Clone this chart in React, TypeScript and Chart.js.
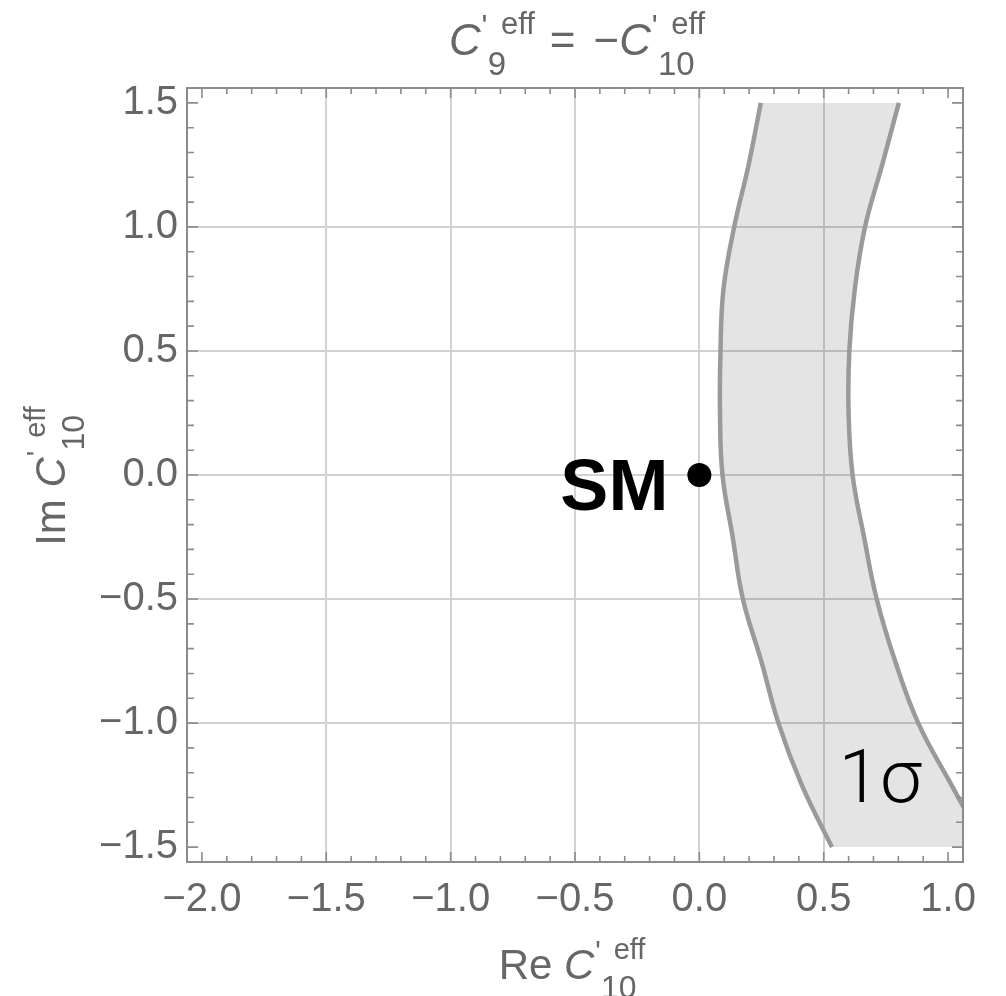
import React, { useEffect, useRef } from 'react';
import { Chart, registerables } from 'chart.js';

Chart.register(...registerables);

// Im C'10 sample points along the 1σ band
const IM_VALUES = [-1.5, -1.25, -1.0, -0.75, -0.5, -0.25, 0, 0.25, 0.5, 0.75, 1.0, 1.25, 1.5];
// Re C'10 of the inner (left) band edge at each Im value
const RE_INNER = [0.533, 0.412, 0.318, 0.249, 0.175, 0.134, 0.093, 0.083, 0.085, 0.097, 0.14, 0.198, 0.247];
// Re C'10 of the outer (right) band edge at each Im value
const RE_OUTER = [1.15, 1.014, 0.88, 0.787, 0.713, 0.662, 0.616, 0.6, 0.603, 0.625, 0.666, 0.735, 0.802];

// Standard Model point
const SM_RE = [0];
const SM_IM = [0];

const X_TICKS = [-2, -1.5, -1, -0.5, 0, 0.5, 1];
const X_TICK_LABELS = ['−2.0', '−1.5', '−1.0', '−0.5', '0.0', '0.5', '1.0'];
const Y_TICKS = [-1.5, -1, -0.5, 0, 0.5, 1, 1.5];
const Y_TICK_LABELS = ['−1.5', '−1.0', '−0.5', '0.0', '0.5', '1.0', '1.5'];
const X_GRID = [-1.5, -1, -0.5, 0, 0.5];
const Y_GRID = [-1, -0.5, 0, 0.5, 1];

const X_MIN = -2.06;
const X_MAX = 1.06;
const Y_MIN = -1.56;
const Y_MAX = 1.56;

const FONT = '"Liberation Sans", Arial, Helvetica, sans-serif';
const TEXT_GRAY = '#666666';
const FRAME_GRAY = '#8c8c8c';
const GRID_GRAY = '#d2d2d2';
const BAND_FILL = 'rgba(0,0,0,0.105)';
const BAND_EDGE = '#9a9a9a';

const SUP = 0.7;
const SUB = 0.75;

const near = (a: number, b: number) => Math.abs(a - b) < 1e-6;
const inList = (v: number, list: number[]) => list.some((g) => near(v, g));

// Width of C'^eff_sub at the given size
function symbolWidth(ctx: CanvasRenderingContext2D, size: number, sub: string) {
  ctx.font = `italic ${size}px ${FONT}`;
  const wc = ctx.measureText('C').width;
  ctx.font = `${Math.round(size * SUP)}px ${FONT}`;
  const we = ctx.measureText('eff').width;
  ctx.font = `${Math.round(size * SUB)}px ${FONT}`;
  const ws = ctx.measureText(sub).width;
  return wc + Math.max(size * 0.46 + we, size * 0.16 + ws);
}

// Draws C'^eff_sub with its left edge at x
function drawSymbol(ctx: CanvasRenderingContext2D, x: number, base: number, size: number, sub: string) {
  ctx.textAlign = 'left';
  ctx.textBaseline = 'alphabetic';
  ctx.font = `italic ${size}px ${FONT}`;
  ctx.fillText('C', x, base);
  const xs = x + ctx.measureText('C').width;
  ctx.font = `${Math.round(size * SUP)}px ${FONT}`;
  ctx.fillText("'", xs + size * 0.02, base - size * 0.42);
  ctx.fillText('eff', xs + size * 0.46, base - size * 0.48);
  ctx.font = `${Math.round(size * SUB)}px ${FONT}`;
  ctx.fillText(sub, xs + size * 0.16, base + size * 0.45);
}

// "Re C'^eff_10" / "Im C'^eff_10" centred at cx
function drawAxisLabel(ctx: CanvasRenderingContext2D, prefix: string, cx: number, base: number, size: number) {
  ctx.font = `${size}px ${FONT}`;
  const wp = ctx.measureText(prefix).width;
  const total = wp + symbolWidth(ctx, size, '10');
  const x0 = cx - total / 2;
  ctx.font = `${size}px ${FONT}`;
  ctx.textAlign = 'left';
  ctx.textBaseline = 'alphabetic';
  ctx.fillText(prefix, x0, base);
  drawSymbol(ctx, x0 + wp, base, size, '10');
}

const decorations = {
  id: 'decorations',
  afterDraw(chart: any) {
    const { ctx, chartArea: a } = chart;
    const xs = chart.scales.x;
    const ys = chart.scales.y;
    ctx.save();

    // frame
    ctx.strokeStyle = FRAME_GRAY;
    ctx.lineWidth = 2;
    ctx.strokeRect(a.left, a.top, a.right - a.left, a.bottom - a.top);

    // inward frame ticks on all four sides
    ctx.lineWidth = 1.6;
    ctx.beginPath();
    for (const t of xs.ticks) {
      const px = xs.getPixelForValue(t.value);
      const len = inList(t.value, X_TICKS) ? 10 : 6;
      ctx.moveTo(px, a.bottom);
      ctx.lineTo(px, a.bottom - len);
      ctx.moveTo(px, a.top);
      ctx.lineTo(px, a.top + len);
    }
    for (const t of ys.ticks) {
      const py = ys.getPixelForValue(t.value);
      const len = inList(t.value, Y_TICKS) ? 11 : 7;
      ctx.moveTo(a.left, py);
      ctx.lineTo(a.left + len, py);
      ctx.moveTo(a.right, py);
      ctx.lineTo(a.right - len, py);
    }
    ctx.stroke();

    // title
    ctx.fillStyle = TEXT_GRAY;
    const ts = 44;
    const w1 = symbolWidth(ctx, ts, '9');
    const w2 = symbolWidth(ctx, ts, '10');
    ctx.font = `${ts}px ${FONT}`;
    const weq = ctx.measureText('=').width;
    const wmin = ctx.measureText('−').width;
    const gap1 = 15;
    const gap2 = 18;
    const total = w1 + gap1 + weq + gap2 + wmin + w2;
    let x = (a.left + a.right) / 2 + 2 - total / 2;
    const tb = 55;
    drawSymbol(ctx, x, tb, ts, '9');
    x += w1 + gap1;
    ctx.font = `${ts}px ${FONT}`;
    ctx.fillText('=', x, tb);
    x += weq + gap2;
    ctx.fillText('−', x, tb);
    x += wmin;
    drawSymbol(ctx, x, tb, ts, '10');

    // axis titles
    drawAxisLabel(ctx, 'Re ', (a.left + a.right) / 2 - 3, 979, 42);
    ctx.save();
    ctx.translate(65, (a.top + a.bottom) / 2 + 1);
    ctx.rotate(-Math.PI / 2);
    drawAxisLabel(ctx, 'Im ', 0, 0, 42);
    ctx.restore();

    // SM label beside its point
    const smx = xs.getPixelForValue(SM_RE[0]);
    const smy = ys.getPixelForValue(SM_IM[0]);
    ctx.fillStyle = '#000';
    ctx.font = `bold 72px ${FONT}`;
    ctx.textAlign = 'right';
    ctx.textBaseline = 'alphabetic';
    ctx.fillText('SM', smx - 31, smy + 35);

    // band label
    ctx.font = '300 75px Roboto, "Liberation Sans", sans-serif';
    ctx.textAlign = 'center';
    ctx.fillText('1σ', xs.getPixelForValue(0.727), ys.getPixelForValue(-1.32));

    ctx.restore();
  },
};

export default function App() {
  const ref = useRef<HTMLCanvasElement | null>(null);

  useEffect(() => {
    if (!ref.current) return;
    const inner = IM_VALUES.map((im, i) => ({ x: RE_INNER[i], y: im }));
    const outer = IM_VALUES.map((im, i) => ({ x: RE_OUTER[i], y: im }));
    const sm = SM_RE.map((re, i) => ({ x: re, y: SM_IM[i] }));

    const tickLabel = (values: number[], labels: string[]) => (v: number) => {
      const i = values.findIndex((t) => near(t, v));
      return i >= 0 ? labels[i] : '';
    };

    const chart = new Chart(ref.current, {
      type: 'line',
      data: {
        datasets: [
          {
            data: inner,
            borderColor: BAND_EDGE,
            borderWidth: 4.5,
            backgroundColor: BAND_FILL,
            fill: '+1',
            pointRadius: 0,
            tension: 0.4,
            clip: 0,
          },
          {
            data: outer,
            borderColor: BAND_EDGE,
            borderWidth: 4.5,
            fill: false,
            pointRadius: 0,
            tension: 0.4,
            clip: 0,
          },
          {
            data: sm,
            showLine: false,
            fill: false,
            pointRadius: 12,
            pointBackgroundColor: '#000',
            pointBorderWidth: 0,
          },
        ],
      } as any,
      options: {
        indexAxis: 'y',
        responsive: false,
        animation: false,
        events: [],
        layout: { padding: { top: 88, right: 43, left: 0, bottom: 0 } },
        plugins: {
          legend: { display: false },
          tooltip: { enabled: false },
          filler: { drawTime: 'beforeDatasetsDraw' },
        },
        scales: {
          x: {
            type: 'linear',
            min: X_MIN,
            max: X_MAX,
            afterFit: (s: any) => {
              s.height = 134;
            },
            border: { display: false },
            grid: {
              drawTicks: false,
              lineWidth: 2,
              color: (c: any) => (c.tick && inList(c.tick.value, X_GRID) ? GRID_GRAY : 'rgba(0,0,0,0)'),
            },
            ticks: {
              stepSize: 0.1,
              includeBounds: false,
              autoSkip: false,
              maxRotation: 0,
              padding: 14,
              color: TEXT_GRAY,
              font: { family: FONT, size: 40 },
              callback: tickLabel(X_TICKS, X_TICK_LABELS) as any,
            },
          },
          y: {
            type: 'linear',
            min: Y_MIN,
            max: Y_MAX,
            afterFit: (s: any) => {
              s.width = 187;
            },
            border: { display: false },
            grid: {
              drawTicks: false,
              lineWidth: 2,
              color: (c: any) => (c.tick && inList(c.tick.value, Y_GRID) ? GRID_GRAY : 'rgba(0,0,0,0)'),
            },
            ticks: {
              stepSize: 0.1,
              includeBounds: false,
              autoSkip: false,
              padding: 9,
              color: TEXT_GRAY,
              font: { family: FONT, size: 40 },
              callback: tickLabel(Y_TICKS, Y_TICK_LABELS) as any,
            },
          },
        },
      } as any,
      plugins: [decorations],
    });
    return () => chart.destroy();
  }, []);

  return (
    <div style={{ position: 'fixed', left: 0, top: 0, width: 1006, height: 996, background: '#fff' }}>
      <canvas ref={ref} width={1006} height={996} style={{ display: 'block' }} />
    </div>
  );
}
